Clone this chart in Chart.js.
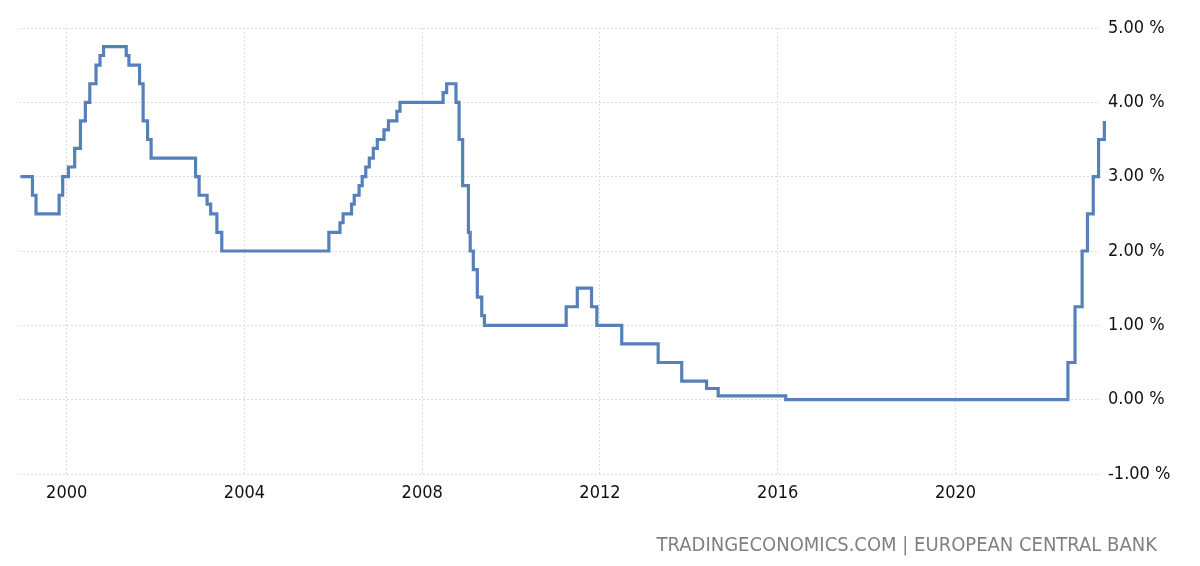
<!DOCTYPE html>
<html>
<head>
<meta charset="utf-8">
<script src="https://cdn.jsdelivr.net/npm/chart.js@4/dist/chart.umd.min.js"></script>
<style>
  html, body { margin: 0; padding: 0; background: #ffffff; }
  #wrap { position: relative; width: 1200px; height: 566px; }
  #footer { position: absolute; right: 43px; top: 532px; font-family: 'DejaVu Sans Condensed', 'DejaVu Sans', sans-serif; font-size: 20px; color: #808080; white-space: nowrap; }
</style>
</head>
<body>
<div id="wrap">
  <canvas id="c" width="1200" height="566"></canvas>
  <div id="footer">TRADINGECONOMICS.COM | EUROPEAN CENTRAL BANK</div>
</div>
<script>
// Decimal-year dates at which the rate takes a new value
const changeDates = [
  1998.96, 1999.23, 1999.31, 1999.83, 1999.91,
  2000.04, 2000.18, 2000.31, 2000.42, 2000.52, 2000.66, 2000.75, 2000.83,
  2001.34, 2001.40, 2001.64, 2001.72, 2001.82, 2001.90,
  2002.90, 2002.98, 2003.16, 2003.24, 2003.38, 2003.49,
  2005.90, 2006.15, 2006.22, 2006.41, 2006.47, 2006.58, 2006.65, 2006.73,
  2006.81, 2006.90, 2006.99, 2007.14, 2007.24, 2007.43, 2007.50,
  2008.47, 2008.55, 2008.76, 2008.83, 2008.91, 2009.04, 2009.08, 2009.15,
  2009.24, 2009.34, 2009.40,
  2011.24, 2011.49, 2011.81, 2011.93, 2012.49, 2013.31, 2013.84, 2014.40,
  2014.66, 2016.18,
  2022.53, 2022.69, 2022.85, 2022.97, 2023.10, 2023.22, 2023.35, 2023.40
];
// Interest rate (%) from each date above
const rates = [
  3.00, 2.75, 2.50, 2.75, 3.00,
  3.13, 3.38, 3.75, 4.00, 4.25, 4.50, 4.63, 4.75,
  4.63, 4.50, 4.25, 3.75, 3.50, 3.25,
  3.00, 2.75, 2.63, 2.50, 2.25, 2.00,
  2.25, 2.38, 2.50, 2.63, 2.75, 2.88, 3.00, 3.13,
  3.25, 3.38, 3.50, 3.63, 3.75, 3.88, 4.00,
  4.13, 4.25, 4.00, 3.50, 2.88, 2.25, 2.00, 1.75,
  1.38, 1.13, 1.00,
  1.25, 1.50, 1.25, 1.00, 0.75, 0.50, 0.25, 0.15,
  0.05, 0.00,
  0.50, 1.25, 2.00, 2.50, 3.00, 3.50, 3.75, 3.75
];
const yearTicks = [2000, 2004, 2008, 2012, 2016, 2020];
const rateTicks = [-1, 0, 1, 2, 3, 4, 5];

const points = changeDates.map((d, i) => ({ x: d, y: rates[i] }));
const FONT = "'DejaVu Sans Condensed', 'DejaVu Sans', sans-serif";

new Chart(document.getElementById('c'), {
  type: 'line',
  data: {
    datasets: [{
      data: points,
      stepped: 'before',
      borderColor: '#5580ba',
      borderWidth: 3.2,
      pointRadius: 0,
      fill: false,
      clip: false,
      borderJoinStyle: 'miter'
    }]
  },
  options: {
    responsive: false,
    animation: false,
    devicePixelRatio: 1,
    layout: { padding: { left: 19, top: 28, right: 0, bottom: 0 } },
    plugins: { legend: { display: false }, tooltip: { enabled: false } },
    scales: {
      x: {
        type: 'linear',
        min: 1998.927,
        max: 2023.252,
        afterBuildTicks: s => { s.ticks = yearTicks.map(v => ({ value: v })); },
        afterFit: s => { s.height = 92; },
        grid: { color: '#dcdcdc', drawTicks: false, lineWidth: 1 },
        border: { display: false, dash: [2, 2] },
        ticks: {
          padding: 9,
          color: '#111111',
          font: { family: FONT, size: 18 },
          maxRotation: 0,
          callback: v => String(v)
        }
      },
      y: {
        position: 'right',
        min: -1,
        max: 5,
        afterBuildTicks: s => { s.ticks = rateTicks.map(v => ({ value: v })); },
        afterFit: s => { s.width = 100; },
        grid: { color: '#dcdcdc', drawTicks: false, lineWidth: 1 },
        border: { display: false, dash: [2, 2] },
        ticks: {
          padding: 8,
          color: '#111111',
          font: { family: FONT, size: 18 },
          callback: v => v.toFixed(2) + ' %'
        }
      }
    }
  }
});
</script>
</body>
</html>
